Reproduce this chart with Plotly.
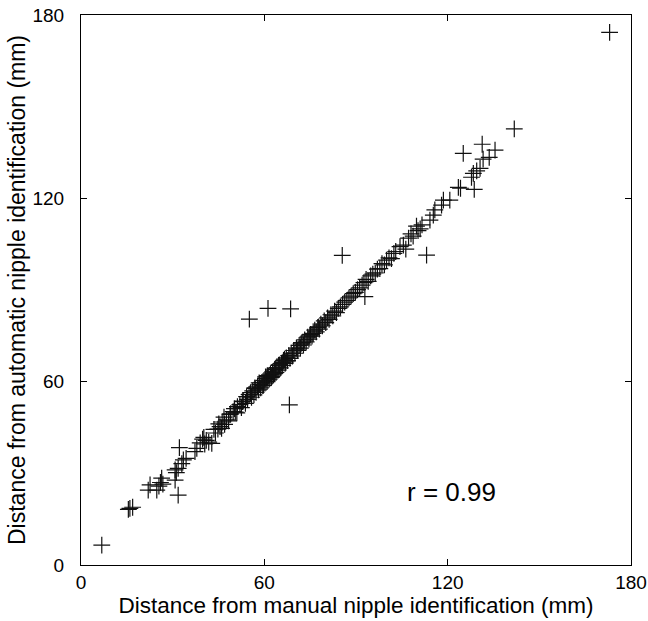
import plotly.graph_objects as go

manual = [6.8, 15.5, 16.0, 16.9, 22.0, 22.6, 24.8, 25.5, 26.0, 26.4, 26.8, 30.8, 31.8, 32.2, 30.8, 31.8, 31.2,
          33.5, 34.4, 33.0, 37.3, 37.9, 39.0, 39.8, 40.5, 41.0, 41.8, 40.2, 42.8, 44.0, 44.8, 45.5, 46.2, 46.0,
          47.0, 47.6, 46.8, 48.3, 49.0, 49.8, 50.5, 51.2, 51.0, 52.0, 52.5, 53.1, 53.8, 54.2, 54.5, 55.0, 55.5,
          55.8, 56.2, 56.6, 57.0, 57.3, 57.8, 58.1, 58.5, 58.8, 59.2, 59.5, 59.9, 60.2, 60.6, 60.9, 61.3, 61.6,
          62.0, 62.3, 62.7, 63.0, 63.4, 63.8, 64.1, 64.5, 64.9, 65.2, 65.6, 66.0, 66.3, 66.8, 67.2, 67.6, 68.0,
          68.2, 68.4, 68.8, 69.2, 69.6, 70.0, 70.5, 71.0, 71.4, 71.8, 72.3, 72.8, 73.2, 73.7, 74.2, 74.6, 75.1,
          75.6, 76.0, 76.5, 77.0, 77.5, 78.0, 78.5, 79.0, 79.6, 80.1, 80.7, 81.2, 81.8, 82.4, 83.0, 83.6, 84.2,
          84.9, 85.5, 85.6, 86.3, 87.0, 87.7, 88.4, 89.1, 89.8, 90.5, 91.2, 92.0, 92.9, 92.6, 93.3, 94.0, 94.8,
          95.5, 96.3, 97.0, 97.8, 98.5, 99.3, 100.0, 100.8, 101.6, 102.4, 103.0, 104.4, 105.5, 106.3, 107.2,
          108.0, 108.7, 109.8, 110.3, 111.0, 111.6, 113.1, 114.2, 115.3, 115.8, 118.0, 118.6, 120.7, 123.5,
          124.2, 128.7, 127.8, 128.4, 129.5, 130.6, 131.6, 133.6, 135.5, 125.1, 131.3, 141.8, 173.0,
          55.1, 61.2, 68.6, 58.3, 59.7, 61.0, 62.5, 63.6, 64.7, 65.9, 67.0, 56.9, 60.4, 63.3, 66.6, 70.8, 72.0,
          74.9, 77.8, 52.8, 50.2, 48.8, 45.1, 43.5]
automatic = [6.5, 18.2, 18.5, 18.9, 24.5, 26.2, 24.5, 25.8, 27.0, 28.4, 26.5, 27.8, 22.9, 38.4, 31.1, 31.6, 30.2,
             34.4, 34.9, 33.2, 37.1, 38.2, 40.0, 41.2, 39.6, 40.8, 40.2, 41.8, 39.8, 43.2, 44.5, 45.3, 46.8, 44.7,
             46.0, 47.5, 48.4, 47.2, 49.5, 50.2, 50.0, 51.8, 49.8, 52.5, 51.5, 53.6, 52.9, 55.1, 54.2, 55.8, 56.4,
             54.9, 57.0, 55.7, 57.8, 56.5, 58.5, 57.3, 59.0, 58.0, 59.8, 58.7, 60.4, 59.5, 61.1, 60.0, 61.8, 60.8,
             62.5, 61.4, 63.2, 62.2, 64.0, 63.0, 64.6, 63.8, 65.5, 64.5, 66.0, 65.3, 67.0, 66.0, 67.8, 66.9, 68.5,
             52.4, 67.6, 69.3, 68.4, 70.2, 69.3, 71.0, 70.2, 71.9, 71.0, 72.8, 72.0, 73.7, 73.0, 74.6, 73.9, 75.5,
             74.9, 75.8, 76.9, 76.3, 77.8, 77.2, 78.8, 78.3, 79.9, 79.3, 80.9, 80.4, 81.9, 81.5, 83.1, 82.6, 84.0,
             84.5, 101.3, 85.3, 86.0, 86.6, 87.4, 88.0, 88.8, 89.2, 90.1, 90.7, 91.6, 87.8, 92.4, 93.5, 92.8, 94.6,
             95.2, 95.6, 96.8, 97.0, 98.6, 98.2, 99.8, 100.5, 100.3, 102.0, 102.6, 104.2, 104.7, 103.4, 107.0,
             108.4, 107.6, 110.9, 109.4, 110.0, 111.3, 101.4, 112.9, 114.5, 116.2, 117.8, 119.4, 119.4, 123.6,
             123.3, 122.9, 126.9, 128.2, 129.0, 129.8, 132.8, 133.4, 135.8, 134.7, 137.7, 142.7, 174.3,
             80.5, 84.0, 83.8, 59.6, 58.9, 62.0, 61.7, 64.2, 65.3, 66.2, 66.5, 58.0, 61.6, 62.6, 67.4, 70.4, 72.4,
             75.0, 77.9, 53.5, 51.2, 49.3, 46.2, 44.4]

tick_vals = [0, 60, 120, 180]
x_title = "Distance from manual nipple identification (mm)"
y_title = "Distance from automatic nipple identification (mm)"
r_label = "r = 0.99"

font_family = "Liberation Sans, Arial, Helvetica, sans-serif"

fig = go.Figure()
fig.add_trace(go.Scatter(
    x=manual, y=automatic, mode="markers",
    marker=dict(symbol="cross-thin", size=12, color="black",
                line=dict(color="#111111", width=1.2)),
    showlegend=False, hoverinfo="x+y", cliponaxis=False,
))

axis_common = dict(
    range=[0, 180], tickvals=tick_vals, ticks="inside", ticklen=6, tickwidth=1,
    tickcolor="black", showline=True, linecolor="black", linewidth=1.2,
    mirror="ticks", showgrid=False, zeroline=False, automargin=False,
    tickfont=dict(size=19, color="black", family=font_family),
)

fig.update_layout(
    width=648, height=621,
    margin=dict(l=81, r=17, t=15, b=56, autoexpand=False),
    plot_bgcolor="white", paper_bgcolor="white",
    font=dict(family=font_family, color="black"),
    xaxis=dict(**axis_common, title=dict(text=x_title, font=dict(size=22.5), standoff=2)),
    yaxis=dict(**axis_common, ticklabelstandoff=12,
               title=dict(text=y_title, font=dict(size=23), standoff=0)),
    annotations=[dict(x=121.4, y=24, xref="x", yref="y", text=r_label, showarrow=False,
                      font=dict(size=26, color="black", family=font_family))],
)

fig.write_html("out.html", config={"displayModeBar": False},
               post_script="document.body.style.margin='0px';document.body.style.overflow='hidden';")
